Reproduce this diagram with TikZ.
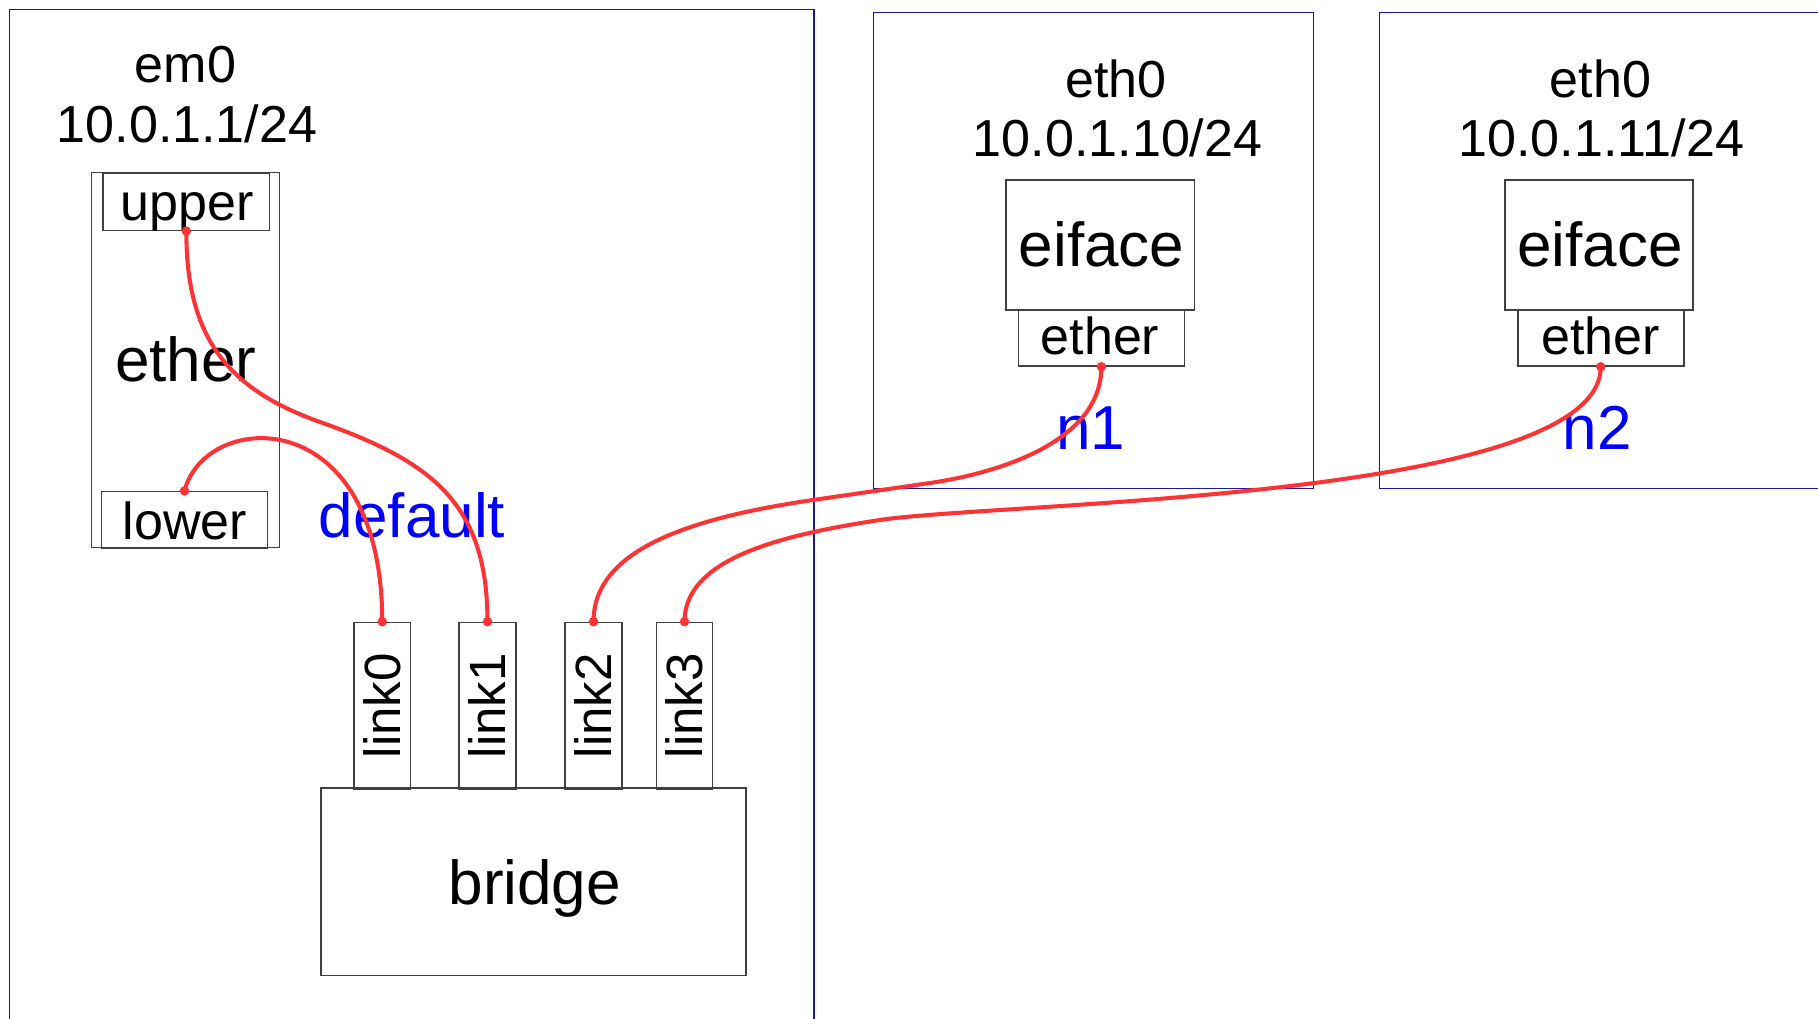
\documentclass[tikz,border=0pt]{standalone}
\usepackage{fontspec}
\setmainfont{Liberation Sans}
\usetikzlibrary{fit}
\definecolor{framecol}{RGB}{24,24,160}
\definecolor{boxcol}{RGB}{64,64,64}
\definecolor{wirecol}{RGB}{255,51,51}
\definecolor{lblblue}{RGB}{0,0,255}
\tikzset{
  frame/.style={draw=framecol, line width=0.35pt, inner sep=0pt},
  box/.style={draw=boxcol, line width=0.45pt, inner sep=0pt},
  txtS/.style={inner sep=0pt, font=\fontsize{14.8}{16}\selectfont},
  txtL/.style={inner sep=0pt, font=\fontsize{17.64}{19}\selectfont},
  txtLink/.style={inner sep=0pt, font=\fontsize{14.5}{16}\selectfont, rotate=90},
  bluelbl/.style={txtL, text=lblblue},
  wire/.style={draw=wirecol, line width=1.15pt},
  wiredot/.style={fill=wirecol},
}
\begin{document}
\begin{tikzpicture}[x=0.01cm,y=-0.01cm]
\useasboundingbox (0,0) rectangle (1818,1019);
\fill[white] (0,0) rectangle (1818,1019);
\begin{scope}
  \clip (0,0) rectangle (1818,1019);
  \node[frame, fit={(9.4,9.4) (814,1040)}] (host) {};
  \node[frame, fit={(873.5,12.3) (1313.3,488.5)}] (vmone) {};
  \node[frame, fit={(1379.5,12.3) (1850,488.5)}] (vmtwo) {};
\end{scope}

% host side
\node[txtS, anchor=base] (em0) at (185.6,82.9) {em0};
\node[txtS, anchor=base] (ipa) at (187,142.9) {10.0.1.1/24};
\node[box, fit={(91.5,172.7) (279.3,547.7)}] (etherbig) {};
\node[box, fit={(103,173.3) (269.7,230.3)}] (upper) {};
\node[box, fit={(101.3,491.7) (267.7,548.3)}] (lower) {};
\node[txtS, anchor=base] (uppert) at (187.5,221) {upper};
\node[txtL, anchor=base] (ethert) at (185.8,381.7) {ether};
\node[txtS, anchor=base] (lowert) at (185,540) {lower};
\node[bluelbl, anchor=base] (default) at (412,537.5) {default};

% bridge
\node[box, fit={(321,788) (745.8,975.7)}] (bridge) {};
\node[txtL, anchor=base] (bridget) at (534.8,904.3) {bridge};
\node[box, fit={(354,622.5) (410.5,789)}] (link0) {};
\node[box, fit={(459,622.5) (516,789)}] (link1) {};
\node[box, fit={(565,622.5) (622,789)}] (link2) {};
\node[box, fit={(656.5,622.5) (712.5,789)}] (link3) {};
\node[txtLink] (link0t) at (link0) {link0};
\node[txtLink] (link1t) at (link1) {link1};
\node[txtLink] (link2t) at (link2) {link2};
\node[txtLink] (link3t) at (link3) {link3};

% vm one
\node[txtS, anchor=base] (ethA) at (1116,97.8) {eth0};
\node[txtS, anchor=base] (ipb) at (1117.6,156.5) {10.0.1.10/24};
\node[box, fit={(1006,180) (1194.3,310)}] (eifaceA) {};
\node[box, fit={(1018.3,310) (1184.5,366)}] (etherA) {};
\node[txtL, anchor=base] (eifaceAt) at (1101.5,266.5) {eiface};
\node[txtS, anchor=base] (etherAt) at (1100,355) {ether};
\node[bluelbl, anchor=base] (nA) at (1090.5,450) {n1};

% vm two
\node[txtS, anchor=base] (ethB) at (1600.4,97.8) {eth0};
\node[txtS, anchor=base] (ipc) at (1601.3,156.5) {10.0.1.11/24};
\node[box, fit={(1505,180) (1693,310)}] (eifaceB) {};
\node[box, fit={(1517.7,310) (1683.8,366)}] (etherB) {};
\node[txtL, anchor=base] (eifaceBt) at (1600.2,266.5) {eiface};
\node[txtS, anchor=base] (etherBt) at (1600.5,355) {ether};
\node[bluelbl, anchor=base] (nB) at (1597,450) {n2};

% wires
\draw[wire] (upper.south) .. controls (186,340) and (230,390) .. (320,422)
  .. controls (430,461) and (487.5,502) .. (link1.north);
\draw[wire] (lower.north) .. controls (205,410) and (382,400) .. (link0.north);
\draw[wire] (link2.north) .. controls (593.5,552) and (683,519) .. (813,500)
  -- (930,483) .. controls (990,474.3) and (1101.2,445) .. (etherA.south);
\draw[wire] (link3.north) .. controls (684.5,562) and (770,536.5) .. (880,520)
  .. controls (1000,502) and (1600.7,500) .. (etherB.south);

\foreach \p in {upper.south, lower.north, link0.north, link1.north, link2.north, link3.north, etherA.south, etherB.south}
  \fill[wiredot] (\p) circle[radius=1.35pt];
\end{tikzpicture}
\end{document}
